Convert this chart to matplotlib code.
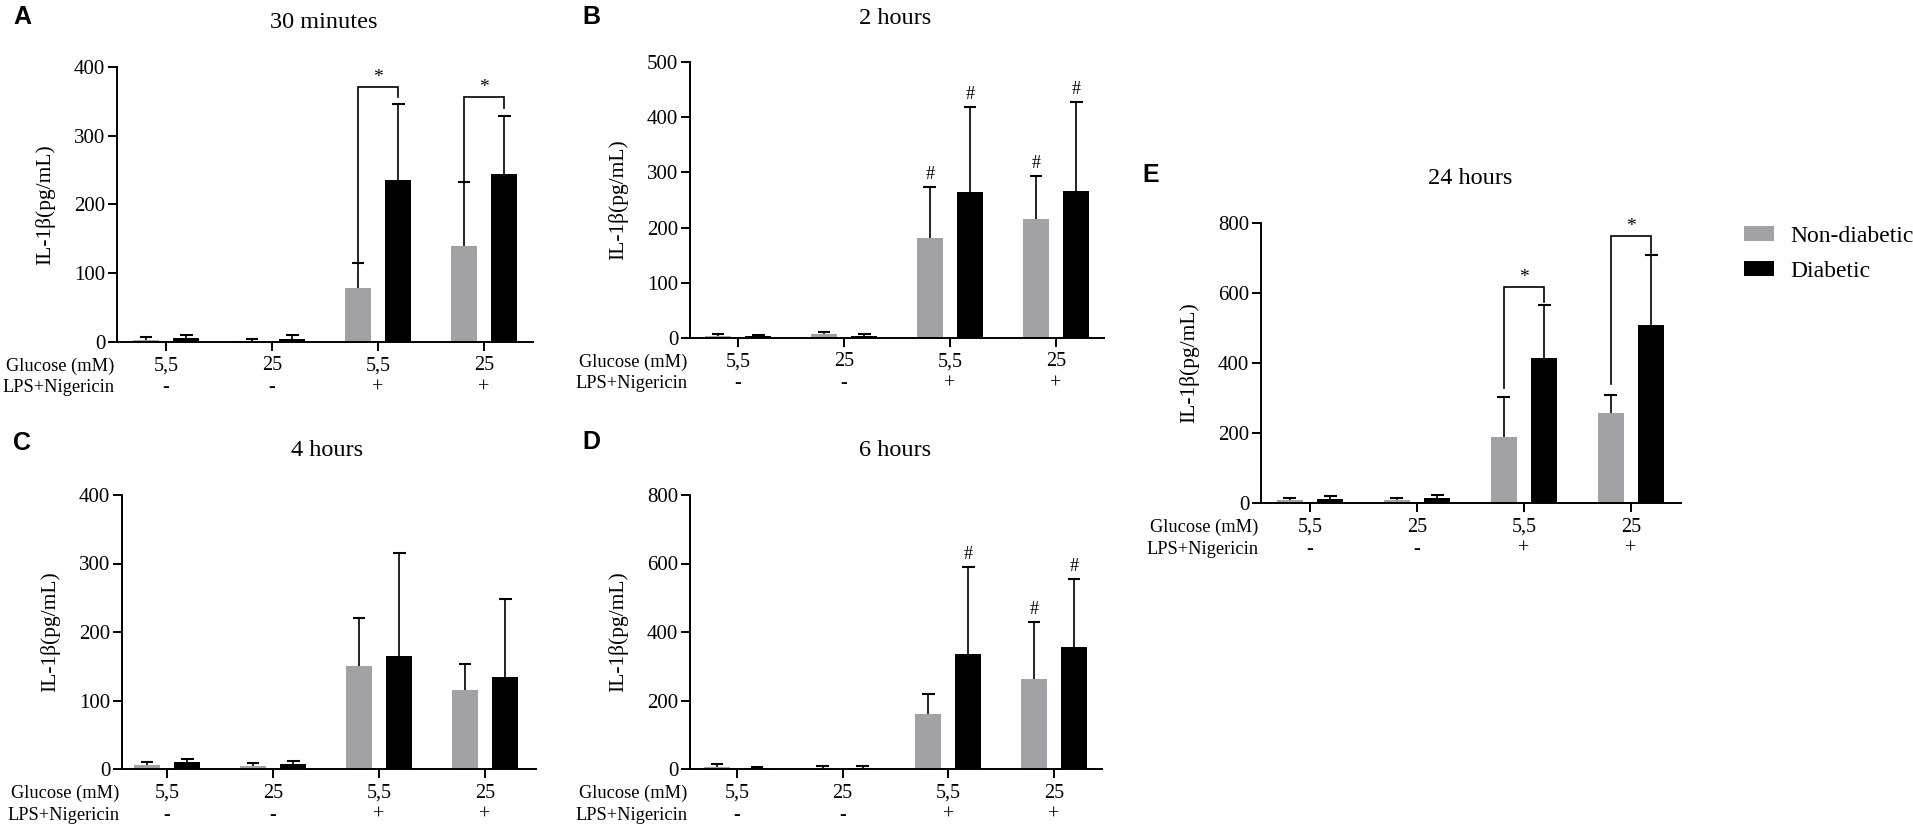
import matplotlib
matplotlib.use('Agg')
import matplotlib.pyplot as plt
from matplotlib.patches import Patch

W, H, DPI = 1913, 824, 100
plt.rcParams['font.family'] = ['Liberation Serif', 'DejaVu Serif']

glucose_labels = ['5,5', '25', '5,5', '25']
lps_labels = ['-', '-', '+', '+']
series_names = ['Non-diabetic', 'Diabetic']
series_colors = ['#a2a1a6', '#000000']

# ---- data: mean and SD (upper error) ----
a_nd_mean = [3, 1.5, 78, 140]
a_nd_sd = [4, 3.5, 37, 93]
a_d_mean = [5.5, 4.5, 235, 244]
a_d_sd = [4.5, 5.5, 111, 85]

b_nd_mean = [3, 6.5, 181, 216]
b_nd_sd = [4, 3.5, 92, 77]
b_d_mean = [4, 4, 264, 267]
b_d_sd = [1.5, 3, 154, 160]

c_nd_mean = [6, 5, 150, 115]
c_nd_sd = [4, 4, 70, 38]
c_d_mean = [10, 7, 165, 135]
c_d_sd = [4, 5, 150, 113]

d_nd_mean = [5, 3, 161, 263]
d_nd_sd = [9, 5, 58, 166]
d_d_mean = [3, 4, 336, 356]
d_d_sd = [4, 4, 254, 199]

e_nd_mean = [8, 10, 189, 258]
e_nd_sd = [5, 3, 114, 50]
e_d_mean = [12, 13, 414, 510]
e_d_sd = [8, 9, 152, 199]

# significance brackets (*): group index, bracket level, left leg bottom, right leg bottom
a_star_groups = [2, 3]
a_star_level = [371, 356]
a_star_left = [115, 233]
a_star_right = [356, 340]
e_star_groups = [2, 3]
e_star_level = [617, 763]
e_star_left = [329, 340]
e_star_right = [575, 714]

# '#' marks: (group, series index)
b_hash = [(2, 0), (2, 1), (3, 0), (3, 1)]
d_hash = [(2, 1), (3, 0), (3, 1)]

panels = [
    dict(letter='A', title='30 minutes', nd=(a_nd_mean, a_nd_sd), d=(a_d_mean, a_d_sd),
         ymax=400, yticks=[0, 100, 200, 300, 400],
         box=(117, 533, 67, 342), groups_px=(166, 484), title_px=(324, 22), letter_px=(22, 17),
         stars=(a_star_groups, a_star_level, a_star_left, a_star_right), hashes=[]),
    dict(letter='B', title='2 hours', nd=(b_nd_mean, b_nd_sd), d=(b_d_mean, b_d_sd),
         ymax=500, yticks=[0, 100, 200, 300, 400, 500],
         box=(690, 1104, 62, 338), groups_px=(738, 1056), title_px=(895, 18), letter_px=(591, 17),
         stars=None, hashes=b_hash),
    dict(letter='C', title='4 hours', nd=(c_nd_mean, c_nd_sd), d=(c_d_mean, c_d_sd),
         ymax=400, yticks=[0, 100, 200, 300, 400],
         box=(122, 536, 495, 769), groups_px=(167, 485), title_px=(327, 450), letter_px=(22, 443),
         stars=None, hashes=[]),
    dict(letter='D', title='6 hours', nd=(d_nd_mean, d_nd_sd), d=(d_d_mean, d_d_sd),
         ymax=800, yticks=[0, 200, 400, 600, 800],
         box=(690, 1102, 495, 769), groups_px=(737, 1054), title_px=(895, 451), letter_px=(591, 442),
         stars=None, hashes=d_hash),
    dict(letter='E', title='24 hours', nd=(e_nd_mean, e_nd_sd), d=(e_d_mean, e_d_sd),
         ymax=800, yticks=[0, 200, 400, 600, 800],
         box=(1261, 1681, 223, 503), groups_px=(1310, 1631), title_px=(1470, 179), letter_px=(1151, 175),
         stars=(e_star_groups, e_star_level, e_star_left, e_star_right), hashes=[]),
]

fig = plt.figure(figsize=(W / DPI, H / DPI), dpi=DPI)

BAR_W = 0.245
OFF = 0.19
CAP = 0.06
LW = 1.4
ELW = 1.2

for p in panels:
    x0, x1, yt, yb = p['box']
    ax = fig.add_axes([x0 / W, 1 - yb / H, (x1 - x0) / W, (yb - yt) / H])
    g0, g3 = p['groups_px']
    s = (g3 - g0) / 3.0
    ax.set_xlim(-(g0 - x0) / s, 3 + (x1 - g3) / s)
    ax.set_ylim(0, p['ymax'])
    groups = list(range(len(glucose_labels)))
    for si, (mean, sd) in enumerate([p['nd'], p['d']]):
        xs = [g + (2 * si - 1) * OFF for g in groups]
        ax.bar(xs, mean, width=BAR_W, color=series_colors[si], edgecolor='none', zorder=2)
        tops = [m + e for m, e in zip(mean, sd)]
        ax.vlines(xs, mean, tops, color='black', lw=ELW, zorder=3)
        ax.hlines(tops, [x - CAP for x in xs], [x + CAP for x in xs], color='black', lw=ELW + 0.3, zorder=3)
        for (g, sidx) in p['hashes']:
            if sidx == si:
                ax.annotate('#', xy=(xs[g], tops[g]), xytext=(0, 4), textcoords='offset pixels',
                            ha='center', va='bottom', fontsize=13)
    if p['stars']:
        sg, lev, lo_l, lo_r = p['stars']
        for g, lv, ll, lr in zip(sg, lev, lo_l, lo_r):
            xl, xr = g - OFF, g + OFF
            ax.plot([xl, xl, xr, xr], [ll, lv, lv, lr], color='black', lw=ELW, zorder=3,
                    solid_joinstyle='miter')
            ax.annotate('*', xy=(g, lv), xytext=(0, 1), textcoords='offset pixels',
                        ha='center', va='bottom', fontsize=14)
    for sp in ['top', 'right']:
        ax.spines[sp].set_visible(False)
    for sp in ['left', 'bottom']:
        ax.spines[sp].set_linewidth(LW)
    ax.set_yticks(p['yticks'])
    ax.set_xticks(groups)
    ax.set_xticklabels([])
    ax.tick_params(axis='both', direction='out', length=6.5, width=LW, labelsize=15, pad=2)
    ax.set_ylabel('IL-1β(pg/mL)', fontsize=15.5)
    ax.yaxis.set_label_coords(-(62.0) / (x1 - x0), 0.5)
    for g, gl, ll in zip(groups, glucose_labels, lps_labels):
        ax.annotate(gl, xy=(g, 0), xycoords=('data', 'axes fraction'), xytext=(0, -24),
                    textcoords='offset pixels', ha='center', va='center', fontsize=14.5)
        ax.annotate(ll, xy=(g, 0), xycoords=('data', 'axes fraction'), xytext=(0, -46),
                    textcoords='offset pixels', ha='center', va='center', fontsize=14.5)
    ax.annotate('Glucose (mM)', xy=(0, 0), xycoords='axes fraction', xytext=(-3, -24),
                textcoords='offset pixels', ha='right', va='center', fontsize=13.2)
    ax.annotate('LPS+Nigericin', xy=(0, 0), xycoords='axes fraction', xytext=(-3, -46),
                textcoords='offset pixels', ha='right', va='center', fontsize=13.2)
    tx, ty = p['title_px']
    fig.text(tx / W, 1 - ty / H, p['title'], ha='center', va='center', fontsize=17.5)
    lx, ly = p['letter_px']
    fig.text(lx / W, 1 - ly / H, p['letter'], ha='center', va='center', fontsize=18,
             fontweight='bold', family=['Liberation Sans', 'DejaVu Sans'])

handles = [Patch(facecolor=c, edgecolor='none') for c in series_colors]
fig.legend(handles, series_names, loc='upper left', bbox_to_anchor=(1744 / W, 1 - 226 / H),
           frameon=False, fontsize=17, handlelength=1.25, handleheight=0.6,
           handletextpad=0.7, labelspacing=0.6, borderpad=0, borderaxespad=0)

fig.savefig('out.png', dpi=DPI)
